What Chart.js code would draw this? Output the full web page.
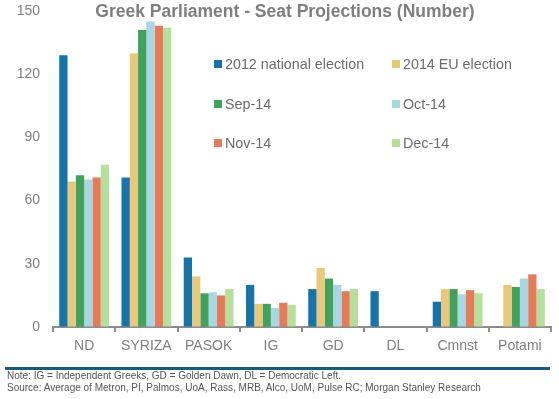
<!DOCTYPE html>
<html lang="en">
<head>
  <meta charset="UTF-8" />
  <title>Greek Parliament - Seat Projections</title>
  <script src="https://cdn.jsdelivr.net/npm/chart.js"></script>
  <style>
    body {
      margin: 0;
      background: #fff;
      font-family: Arial, "Liberation Sans", sans-serif;
    }
    .wrap {
      position: relative;
      width: 559px;
      height: 399px;
      overflow: hidden;
    }
    .wrap canvas {
      position: absolute;
      left: 0;
      top: 0;
    }
    .title {
      position: absolute;
      left: 0;
      width: 570px;
      top: 1px;
      text-align: center;
      font-weight: bold;
      font-size: 17.5px;
      color: #7f7f7f;
    }
    .legend {
      position: absolute;
      font-size: 14.3px;
      color: #6b6b6b;
      white-space: nowrap;
    }
    .legend i {
      display: inline-block;
      width: 8px;
      height: 8px;
      margin-right: 3px;
      vertical-align: 1px;
    }
    .rule {
      position: absolute;
      left: 5px;
      width: 545px;
      top: 367px;
      height: 3px;
      background: #1b5a7d;
    }
    .note {
      position: absolute;
      left: 7px;
      top: 370px;
      font-size: 10px;
      line-height: 12px;
      color: #555;
    }
  </style>
</head>
<body>

<div class="wrap">
  <canvas id="seatChart" width="559" height="399"></canvas>
  <div class="title">Greek Parliament - Seat Projections (Number)</div>
  <div id="legendBox"></div>
  <div class="rule"></div>
  <div class="note">Note: IG = Independent Greeks, GD = Golden Dawn, DL = Democratic Left.<br>Source: Average of Metron, PI, Palmos, UoA, Rass, MRB, Alco, UoM, Pulse RC; Morgan Stanley Research</div>
</div>

<script>
  const parties = ['ND', 'SYRIZA', 'PASOK', 'IG', 'GD', 'DL', 'Cmnst', 'Potami'];
  const seriesNames = ['2012 national election', '2014 EU election', 'Sep-14', 'Oct-14', 'Nov-14', 'Dec-14'];
  const national2012 = [129, 71, 33, 20, 18, 17, 12, null];
  const eu2014 = [69, 130, 24, 11, 28, null, 18, 20];
  const sep14 = [72, 141, 16, 11, 23, null, 18, 19];
  const oct14 = [70, 145, 16.5, 9, 20, null, 15.5, 23];
  const nov14 = [71, 143, 15, 11.5, 17, null, 17.5, 25];
  const dec14 = [77, 142, 18, 10.5, 18, null, 16, 18];
  const yTicks = [0, 30, 60, 90, 120, 150];

  const colors = ['#1874a8', '#e8c87c', '#43a15e', '#a8d6e2', '#e57b59', '#b6de9c'];
  const allSeries = [national2012, eu2014, sep14, oct14, nov14, dec14];

  // legend sits inside the plot, 2 columns x 3 rows
  const legendBox = document.getElementById('legendBox');
  const legendX = [214, 392];
  const legendY = [56, 96, 135];
  seriesNames.forEach((name, i) => {
    const el = document.createElement('div');
    el.className = 'legend';
    el.style.left = legendX[i % 2] + 'px';
    el.style.top = legendY[Math.floor(i / 2)] + 'px';
    el.innerHTML = '<i style="background:' + colors[i] + '"></i>' + name;
    legendBox.appendChild(el);
  });

  const ctx = document.getElementById('seatChart').getContext('2d');
  new Chart(ctx, {
    type: 'bar',
    data: {
      labels: parties,
      datasets: seriesNames.map((name, i) => ({
        label: name,
        data: allSeries[i],
        backgroundColor: colors[i],
        categoryPercentage: 0.8,
        barPercentage: 1.0
      }))
    },
    options: {
      responsive: false,
      animation: false,
      layout: {
        padding: { top: 11, right: 8, bottom: 39, left: 0 }
      },
      plugins: {
        legend: { display: false },
        tooltip: { enabled: false }
      },
      scales: {
        x: {
          grid: {
            offset: true,
            drawOnChartArea: false,
            drawTicks: true,
            tickLength: 5,
            color: '#8c8c8c',
            lineWidth: 2
          },
          border: { color: '#8c8c8c', width: 2 },
          ticks: {
            color: '#7f7f7f',
            font: { family: 'Arial', size: 14 },
            padding: 6,
            autoSkip: false,
            maxRotation: 0
          },
          afterFit: (scale) => { scale.height = 33; }
        },
        y: {
          min: 0,
          max: 150,
          afterBuildTicks: (scale) => { scale.ticks = yTicks.map(v => ({ value: v })); },
          // invisible tick marks give the label gap without padding the top
          grid: { drawOnChartArea: false, drawTicks: true, tickLength: 13, color: 'rgba(0,0,0,0)' },
          border: { display: false },
          ticks: {
            color: '#7f7f7f',
            font: { family: 'Arial', size: 14 },
            padding: 0
          },
          afterFit: (scale) => { scale.width = 53; }
        }
      }
    }
  });
</script>

</body>
</html>
